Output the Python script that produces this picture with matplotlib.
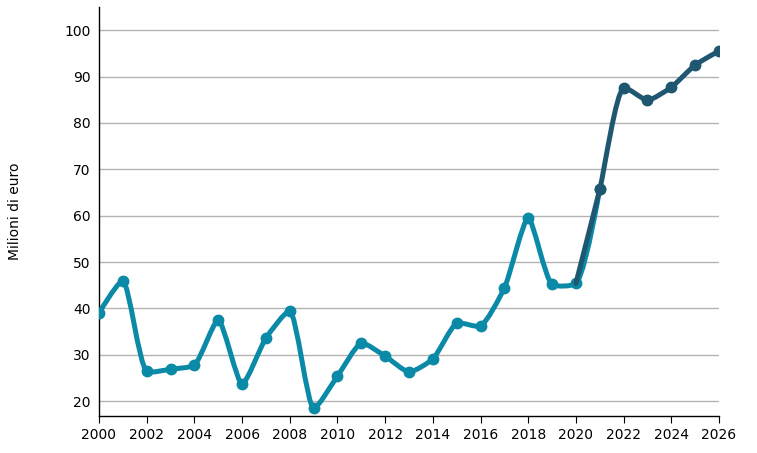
import numpy as np
import matplotlib.pyplot as plt
from matplotlib.path import Path
from matplotlib.patches import PathPatch

# data (milioni di euro)
years_hist = list(range(2000, 2022))
values_hist = [39.0, 45.9, 26.5, 26.9, 27.8, 37.5, 23.7, 33.6, 39.4, 18.5,
               25.4, 32.5, 29.7, 26.3, 29.1, 36.8, 36.2, 44.4, 59.5, 45.2,
               45.4, 65.7]
years_fcst = list(range(2020, 2027))
values_fcst = [45.4, 65.7, 87.5, 84.9, 87.7, 92.5, 95.5]

x_ticks = list(range(2000, 2027, 2))
y_ticks = list(range(20, 101, 10))

TEAL = "#0a8aa6"
NAVY = "#1f5670"

XMIN, XMAX = 2000, 2026
YMIN, YMAX = 16.8, 105
AX_W, AX_H = 620, 409  # axes size in pixels
SX = AX_W / (XMAX - XMIN)
SY = AX_H / (YMAX - YMIN)


def tangent(p0, p1, p2, smooth=0.6):
    # centripetal catmull-rom control points around p1 (pixel space)
    d1 = p0 - p1
    d2 = p2 - p1
    d1a = np.hypot(*d1) ** 0.5
    d2a = np.hypot(*d2) ** 0.5
    num = (d2a * d2a * d1 - d1a * d1a * d2) * smooth
    den1 = 3 * d2a * (d1a + d2a)
    den2 = 3 * d1a * (d1a + d2a)
    return p1 + num / den1, p1 - num / den2


def spline_path(xs, ys):
    pts = [np.array([(x - XMIN) * SX, y * SY]) for x, y in zip(xs, ys)]
    tans = [tangent(pts[i - 1], pts[i], pts[i + 1])
            for i in range(1, len(pts) - 1)]
    verts = [pts[0], tans[0][0], pts[1]]
    codes = [Path.MOVETO, Path.CURVE3, Path.CURVE3]
    for i in range(2, len(pts) - 1):
        verts += [tans[i - 2][1], tans[i - 1][0], pts[i]]
        codes += [Path.CURVE4] * 3
    verts += [tans[-1][1], pts[-1]]
    codes += [Path.CURVE3] * 2
    data = [(v[0] / SX + XMIN, v[1] / SY) for v in verts]
    return Path(data, codes)


fig = plt.figure(figsize=(7.57, 4.53), dpi=100)
ax = fig.add_axes([99 / 757, 37 / 453, AX_W / 757, AX_H / 453])

ax.add_patch(PathPatch(spline_path(years_hist, values_hist), fill=False,
                       edgecolor=TEAL, lw=3.6, capstyle="round",
                       joinstyle="round", zorder=3))
ax.plot(years_hist, values_hist, "o", color=TEAL, ms=7.5, zorder=4)

ax.add_patch(PathPatch(spline_path(years_fcst, values_fcst), fill=False,
                       edgecolor=NAVY, lw=3.6, capstyle="round",
                       joinstyle="round", zorder=5))
ax.plot(years_fcst[1:], values_fcst[1:], "o", color=NAVY, ms=7.5, zorder=6)

ax.set_xlim(XMIN, XMAX)
ax.set_ylim(YMIN, YMAX)
ax.set_xticks(x_ticks)
ax.set_yticks(y_ticks)
ax.grid(axis="y", color="#b3b3b3", lw=1)
ax.set_axisbelow(True)
ax.tick_params(axis="y", length=0, labelsize=10, pad=6)
ax.tick_params(axis="x", length=5, labelsize=10, direction="out")
for s in ["top", "right"]:
    ax.spines[s].set_visible(False)
ax.spines["left"].set_linewidth(1)
ax.spines["bottom"].set_linewidth(1)

fig.text(15 / 757, 1 - 211 / 453, "Milioni di euro", rotation=90,
         ha="center", va="center", fontsize=10)

fig.savefig("out.png", dpi=100)
